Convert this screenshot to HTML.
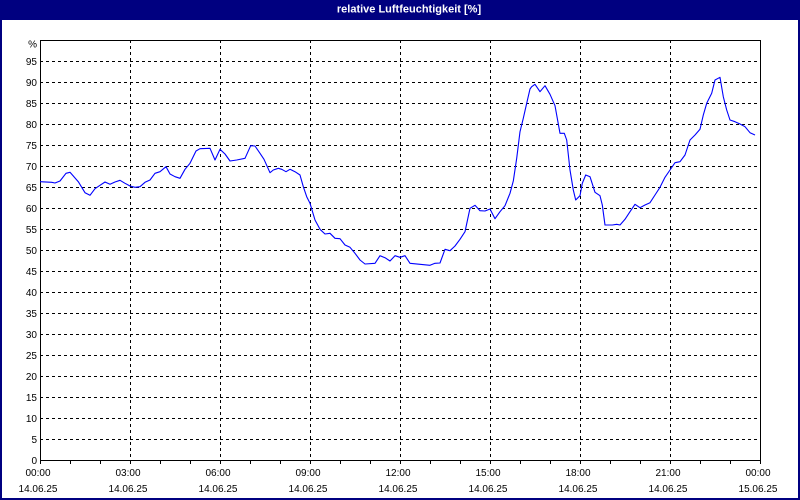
<!DOCTYPE html>
<html><head><meta charset="utf-8"><style>
html,body{margin:0;padding:0;background:#fff;}
svg{display:block;}
text{font-family:"Liberation Sans",sans-serif;font-size:10px;fill:#000;}
</style></head><body>
<svg width="800" height="500" viewBox="0 0 800 500" xmlns="http://www.w3.org/2000/svg">
<rect x="0" y="0" width="800" height="500" fill="#ffffff"/>
<rect x="0" y="0" width="800" height="20" fill="#000080"/>
<rect x="0" y="0" width="2" height="500" fill="#000080"/>
<rect x="798" y="0" width="2" height="500" fill="#000080"/>
<rect x="0" y="498" width="800" height="2" fill="#000080"/>
<text x="409" y="12.5" text-anchor="middle" style="font-size:11px;font-weight:bold;fill:#fff">relative Luftfeuchtigkeit [%]</text>
<g stroke="#000" stroke-width="1" stroke-dasharray="3,3" shape-rendering="crispEdges" fill="none">
<path d="M40 61.5H760M40 82.5H760M40 103.5H760M40 124.5H760M40 145.5H760M40 166.5H760M40 187.5H760M40 208.5H760M40 229.5H760M40 250.5H760M40 271.5H760M40 292.5H760M40 313.5H760M40 334.5H760M40 355.5H760M40 376.5H760M40 397.5H760M40 418.5H760M40 439.5H760"/>
<path d="M130.5 40V460M220.5 40V460M310.5 40V460M400.5 40V460M490.5 40V460M580.5 40V460M670.5 40V460"/>
</g>
<g stroke="#000" stroke-width="1" shape-rendering="crispEdges" fill="none">
<rect x="40.5" y="40.5" width="720" height="420"/>
<path d="M40.5 460V464M70.5 460V464M100.5 460V464M130.5 460V464M160.5 460V464M190.5 460V464M220.5 460V464M250.5 460V464M280.5 460V464M310.5 460V464M340.5 460V464M370.5 460V464M400.5 460V464M430.5 460V464M460.5 460V464M490.5 460V464M520.5 460V464M550.5 460V464M580.5 460V464M610.5 460V464M640.5 460V464M670.5 460V464M700.5 460V464M730.5 460V464M760.5 460V464"/>
</g>
<g text-anchor="end">
<text x="37" y="47.5">%</text>
<text x="37" y="65">95</text><text x="37" y="86">90</text><text x="37" y="107">85</text><text x="37" y="128">80</text>
<text x="37" y="149">75</text><text x="37" y="170">70</text><text x="37" y="191">65</text><text x="37" y="212">60</text>
<text x="37" y="233">55</text><text x="37" y="254">50</text><text x="37" y="275">45</text><text x="37" y="296">40</text>
<text x="37" y="317">35</text><text x="37" y="338">30</text><text x="37" y="359">25</text><text x="37" y="380">20</text>
<text x="37" y="401">15</text><text x="37" y="422">10</text><text x="37" y="443">5</text><text x="37" y="464">0</text>
</g>
<g text-anchor="middle">
<text x="38" y="476">00:00</text><text x="38" y="492">14.06.25</text>
<text x="128" y="476">03:00</text><text x="128" y="492">14.06.25</text>
<text x="218" y="476">06:00</text><text x="218" y="492">14.06.25</text>
<text x="308" y="476">09:00</text><text x="308" y="492">14.06.25</text>
<text x="398" y="476">12:00</text><text x="398" y="492">14.06.25</text>
<text x="488" y="476">15:00</text><text x="488" y="492">14.06.25</text>
<text x="578" y="476">18:00</text><text x="578" y="492">14.06.25</text>
<text x="668" y="476">21:00</text><text x="668" y="492">14.06.25</text>
<text x="758" y="476">00:00</text><text x="758" y="492">15.06.25</text>
</g>
<polyline fill="none" stroke="#0000ff" stroke-width="1.1" stroke-linejoin="round" points="40,181.7 51.7,182.3 55,183 60,181 66,173.3 70,172.3 73.3,176 78.3,181.7 85,192.7 90,195.3 95,188.7 100,185.3 105,182 110,184.3 115,182 120,180.3 125,183.3 130,186 135,187.3 140,186.7 145,182.3 150,180 155,173.3 160,171.7 166,166.7 170,174 175,176.7 180,178.3 185,169.3 190,163.3 196,151 200,148.7 210,148.3 215,160 220,149.3 225,154 230,161 236.7,160 245,158.3 250.7,145.7 255,146 260,153.3 264,159.3 270,172.7 273.3,170 278.3,168.3 281.7,169.3 286,171.7 290,169.3 295,171.7 300,175 303.3,186.7 306.7,196.7 310,203.3 315,220 320,229.3 325,234 330,233.3 335,238.3 340,238.7 345,245 350,247.3 355,253.3 360,260 365,264 375,263.3 380,255.7 385,257.7 390,261 395,255.7 400,257.3 405,255.7 410,263.3 420,264.3 430,265.3 435,263.3 440,263 445,249.3 450,250.7 455,246 460,239.3 465,231.7 470,208.3 475,205.3 480,210.7 485,211 490,209 495,218.7 500,211.7 505,205.7 510,193.3 513.3,181 516.7,158.3 520,131.7 523.3,118.3 526.7,103.3 530,89 531.7,86.7 535,84.3 540,91.7 545,85.7 550,94.3 555,105.7 560,133.3 564.3,133.3 566.7,140 570,170 573.3,190 575.7,200 580,195.7 582.3,183.3 585.7,175 590,176.7 595,192.3 600,195.7 602.3,205 605,225 612.3,225 616.7,224.3 620,225 625,219.3 630,211.7 635,204.3 640,207.7 645,205 650,202.7 655,195 660,187.3 665,177.3 670,170 675,162.7 680,161.7 685,155 690,140 695,135 700,129.3 703.3,115 706.7,103.3 711.7,93.3 715,80 720,77.3 723.3,96.7 726.7,110 730,120 735,121.7 740,124 745,126.7 750,132.7 755,135"/>
</svg>
</body></html>
